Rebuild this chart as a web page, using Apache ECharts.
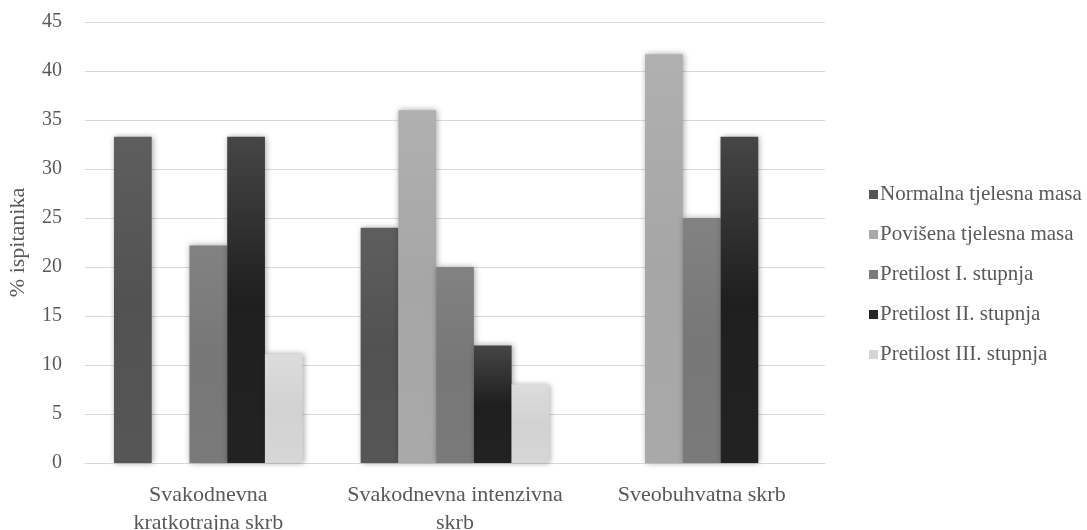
<!DOCTYPE html>
<html>
<head>
<meta charset="utf-8">
<script src="https://cdn.jsdelivr.net/npm/echarts@6/dist/echarts.min.js"></script>
<style>html,body{margin:0;padding:0;background:#fff}#c{width:1087px;height:530px}</style>
</head>
<body>
<div id="c"></div>
<script>
const categories = ['Svakodnevna\nkratkotrajna skrb', 'Svakodnevna intenzivna\nskrb', 'Sveobuhvatna skrb'];
const normalna = [33.3, 24, null];
const povisena = [null, 36, 41.7];
const pretilost1 = [22.2, 20, 25];
const pretilost2 = [33.3, 12, 33.3];
const pretilost3 = [11.1, 8, null];
const seriesNames = ['Normalna tjelesna masa', 'Povišena tjelesna masa', 'Pretilost I. stupnja', 'Pretilost II. stupnja', 'Pretilost III. stupnja'];
const yTicks = [0, 5, 10, 15, 20, 25, 30, 35, 40, 45];

const FONT = '"Liberation Serif", "Times New Roman", serif';
function grad(top, mid, bottom) {
  return new echarts.graphic.LinearGradient(0, 0, 0, 1, [
    {offset: 0, color: top}, {offset: 0.5, color: mid}, {offset: 1, color: bottom}
  ]);
}
const colors = [
  grad('#5e5e5e', '#525252', '#565656'),
  grad('#b0b0b0', '#a6a6a6', '#a9a9a9'),
  grad('#828282', '#777777', '#7a7a7a'),
  grad('#464646', '#1f1f1f', '#222222'),
  grad('#dcdcdc', '#d2d2d2', '#d6d6d6')
];
const legendColors = ['#555555', '#a8a8a8', '#7b7b7b', '#262626', '#d5d5d5'];
const data = [normalna, povisena, pretilost1, pretilost2, pretilost3];

const chart = echarts.init(document.getElementById('c'), null, {renderer: 'canvas'});
chart.setOption({
  animation: false,
  backgroundColor: '#ffffff',
  textStyle: {fontFamily: FONT},
  grid: {left: 85, right: 262, top: 22, bottom: 67, containLabel: false, outerBoundsMode: 'none'},
  legend: {
    orient: 'vertical',
    left: 864,
    top: 179,
    itemWidth: 9,
    itemHeight: 9,
    itemGap: 19,
    icon: 'rect',
    textStyle: {fontFamily: FONT, fontSize: 21, color: '#595959', padding: [0, 0, 0, -3]},
    data: seriesNames.map((n, i) => ({name: n, itemStyle: {color: legendColors[i]}}))
  },
  xAxis: {
    type: 'category',
    data: categories,
    axisLine: {lineStyle: {color: '#d9d9d9', width: 1}},
    axisTick: {show: false},
    axisLabel: {fontFamily: FONT, fontSize: 22, color: '#595959', lineHeight: 28, margin: 18, interval: 0}
  },
  yAxis: {
    type: 'value',
    min: yTicks[0],
    max: yTicks[yTicks.length - 1],
    interval: 5,
    name: '% ispitanika',
    nameLocation: 'middle',
    nameGap: 56,
    nameRotate: 90,
    nameTextStyle: {fontFamily: FONT, fontSize: 22, color: '#595959'},
    axisLine: {show: false},
    axisTick: {show: false},
    splitLine: {lineStyle: {color: '#d9d9d9', width: 1}},
    axisLabel: {fontFamily: FONT, fontSize: 20, color: '#595959', margin: 23}
  },
  series: seriesNames.map((n, i) => ({
    name: n,
    type: 'bar',
    data: data[i],
    barGap: '0%',
    barCategoryGap: '23.5%',
    itemStyle: {
      color: colors[i],
      shadowBlur: 6,
      shadowColor: 'rgba(0,0,0,0.35)',
      shadowOffsetX: 1,
      shadowOffsetY: 0
    }
  }))
});
</script>
</body>
</html>
